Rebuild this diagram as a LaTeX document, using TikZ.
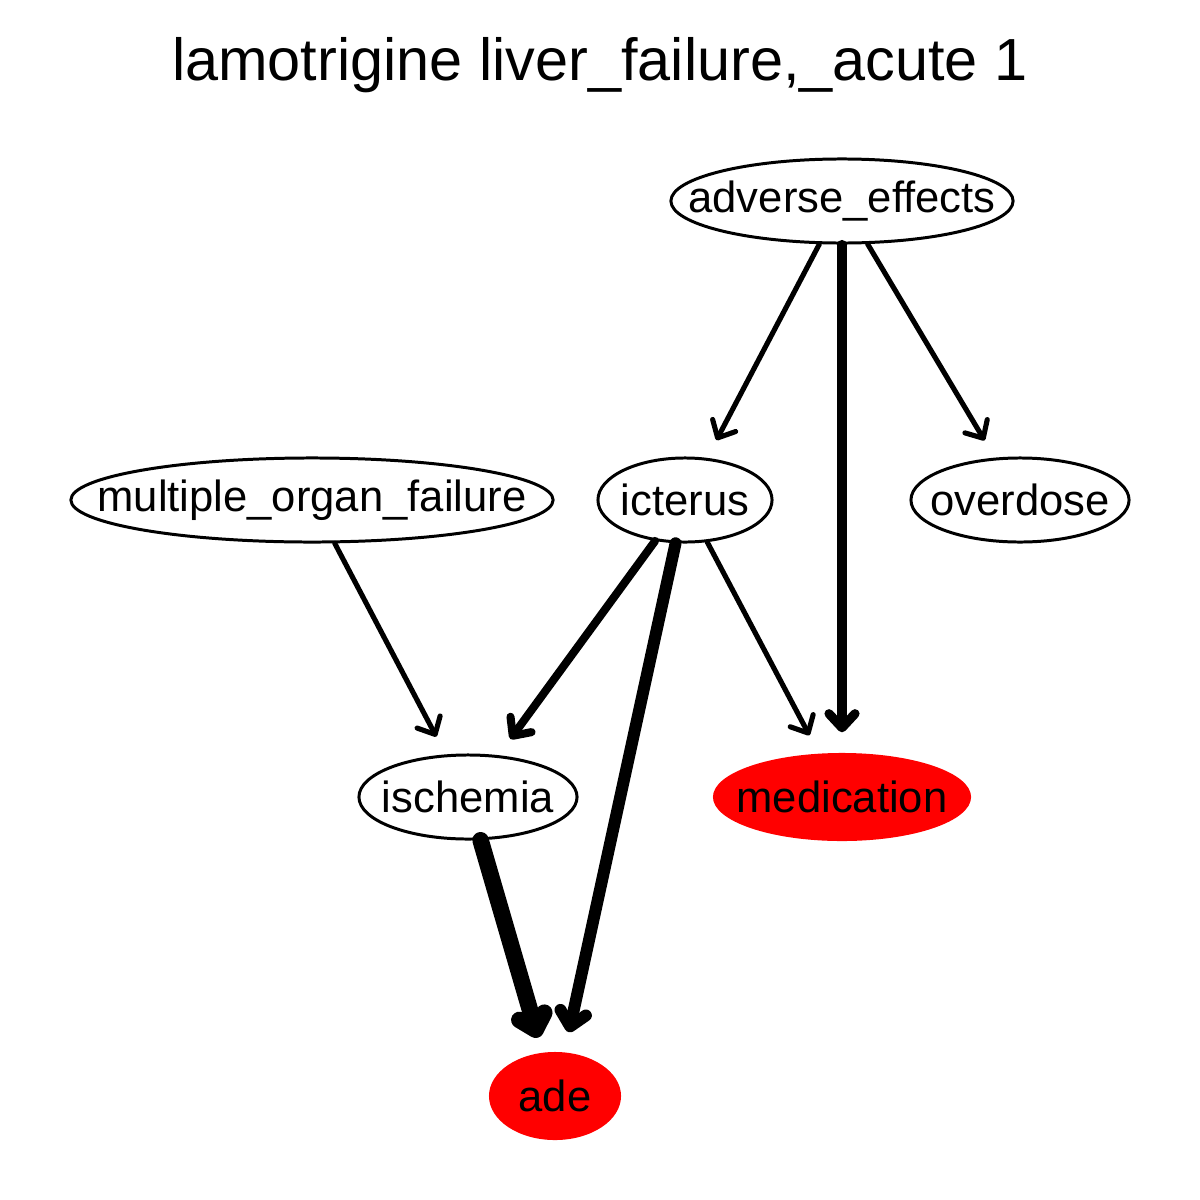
\documentclass[tikz,border=0pt]{standalone}
\usepackage{fontspec}
\setmainfont{Liberation Sans}
\usetikzlibrary{shapes.geometric, arrows.meta}
\definecolor{AdeRed}{HTML}{FF0000}
\newcommand{\nodetext}[1]{\makebox[0pt]{#1}}
\tikzset{
    % Node styles
    termnode/.style={
        ellipse,
        draw=black,
        line width=0.85pt,
        fill=white,
        inner sep=0pt,
        minimum height=0.84cm,
        font=\fontsize{12.4pt}{14pt}\selectfont
    },
    targetnode/.style={
        ellipse,
        draw=none,
        fill=AdeRed,
        inner sep=0pt,
        minimum height=0.88cm,
        font=\fontsize{12.4pt}{14pt}\selectfont
    },
    % Edge style, width given as argument
    relarrow/.style={
        -{Straight Barb[round,length=0.14cm,width=0.26cm]},
        line width=#1,
        line cap=round,
        shorten >=0.2cm
    }
}
\begin{document}
\begin{tikzpicture}[x=0.01cm,y=-0.01cm]
    \useasboundingbox[fill=white] (0,0) rectangle (1200,1200);

    % Title
    \node[font=\fontsize{16.9pt}{20pt}\selectfont] (title) at (600,65) {lamotrigine liver\_failure,\_acute 1};

    % Terms
    \node[termnode,minimum width=3.42cm] (adv) at (842,201) {\nodetext{adverse\_effects}};
    \node[termnode,minimum width=4.82cm] (mof) at (312,500) {\nodetext{multiple\_organ\_failure}};
    \node[termnode,minimum width=1.74cm] (ict) at (685,500) {\nodetext{icterus}};
    \node[termnode,minimum width=2.18cm] (ovd) at (1020,500) {\nodetext{overdose}};
    \node[termnode,minimum width=2.18cm] (isc) at (468,797) {\nodetext{ischemia}};

    % Targets
    \node[targetnode,minimum width=2.58cm] (med) at (842,797) {\nodetext{medication}};
    \node[targetnode,minimum width=1.32cm] (ade) at (555,1096) {\nodetext{ade}};

    % Relations
    \draw[relarrow=1.45pt] (adv) -- (ict);
    \draw[relarrow=2.6pt] (adv) -- (med);
    \draw[relarrow=1.45pt] (adv) -- (ovd);
    \draw[relarrow=1.45pt] (mof) -- (isc);
    \draw[relarrow=2.3pt] (ict) -- (isc);
    \draw[relarrow=3.4pt] (ict) -- (ade);
    \draw[relarrow=1.45pt] (ict) -- (med);
    \draw[relarrow=4.7pt,shorten >=0.15cm] (isc) -- (ade);
\end{tikzpicture}
\end{document}
